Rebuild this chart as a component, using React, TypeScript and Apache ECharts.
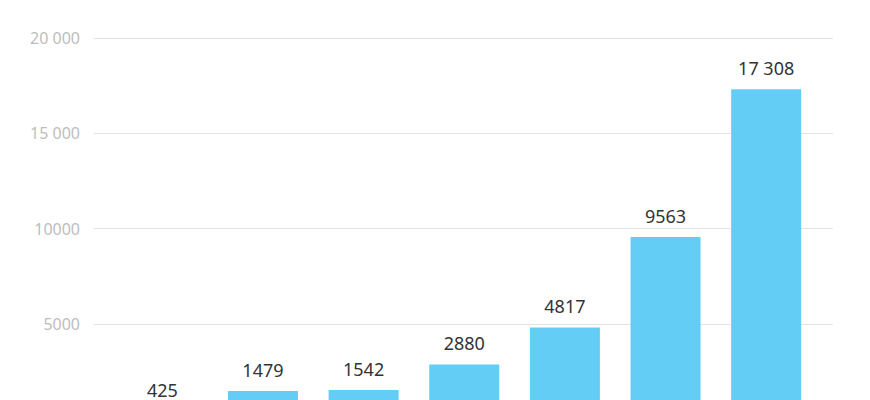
import React, { useEffect, useRef } from "react";
import * as echarts from "echarts";

const categories = ["A", "B", "C", "D", "E", "F", "G"];
const values = [425, 1479, 1542, 2880, 4817, 9563, 17308];
const valueLabels = ["425", "1479", "1542", "2880", "4817", "9563", "17 308"];
const yTicks = [0, 5000, 10000, 15000, 20000];
const yTickLabels = ["0", "5000", "10000", "15 000", "20 000"];

const FONT = "Noto Sans";

export default function App() {
  const ref = useRef<HTMLDivElement>(null);
  useEffect(() => {
    if (!ref.current) return;
    const chart = echarts.init(ref.current, undefined, { renderer: "svg" });
    chart.setOption({
      animation: false,
      backgroundColor: "#ffffff",
      grid: [
        { left: 112, right: 53.5, top: 38, bottom: 20.7, outerBoundsMode: "none", containLabel: false },
        { left: 94, right: 37, top: 38, bottom: 20.7, outerBoundsMode: "none", containLabel: false },
      ],
      xAxis: [
        {
          type: "category",
          gridIndex: 0,
          data: categories,
          axisLine: { show: false },
          axisTick: { show: false },
          axisLabel: { show: false },
        },
        {
          type: "value",
          gridIndex: 1,
          show: false,
        },
      ],
      yAxis: [
        {
          type: "value",
          gridIndex: 0,
          min: 0,
          max: 20000,
          interval: 5000,
          show: false,
          splitLine: { show: false },
        },
        {
          type: "value",
          gridIndex: 1,
          min: 0,
          max: 20000,
          interval: 5000,
          axisLine: { show: false },
          axisTick: { show: false },
          splitLine: { show: true, lineStyle: { color: "#e3e3e3", width: 1 } },
          axisLabel: {
            margin: 14,
            color: "#bdbdbd",
            fontSize: 16,
            fontFamily: FONT,
            showMinLabel: false,
            formatter: (v: number) => {
              const i = yTicks.indexOf(v);
              return i >= 0 ? yTickLabels[i] : String(v);
            },
          },
        },
      ],
      series: [
        {
          type: "bar",
          xAxisIndex: 0,
          yAxisIndex: 0,
          data: values,
          barWidth: 70,
          z: 3,
          itemStyle: { color: "#63cdf5" },
          label: {
            show: true,
            position: "top",
            distance: 12,
            color: "#333333",
            fontSize: 18,
            fontFamily: FONT,
            formatter: (p: any) => valueLabels[p.dataIndex],
          },
        },
      ],
    });
    return () => chart.dispose();
  }, []);
  return (
    <div
      style={{
        position: "fixed",
        left: 0,
        top: 0,
        width: 870,
        height: 400,
        overflow: "hidden",
        background: "#ffffff",
      }}
    >
      <div ref={ref} style={{ width: 870, height: 440 }} />
    </div>
  );
}
